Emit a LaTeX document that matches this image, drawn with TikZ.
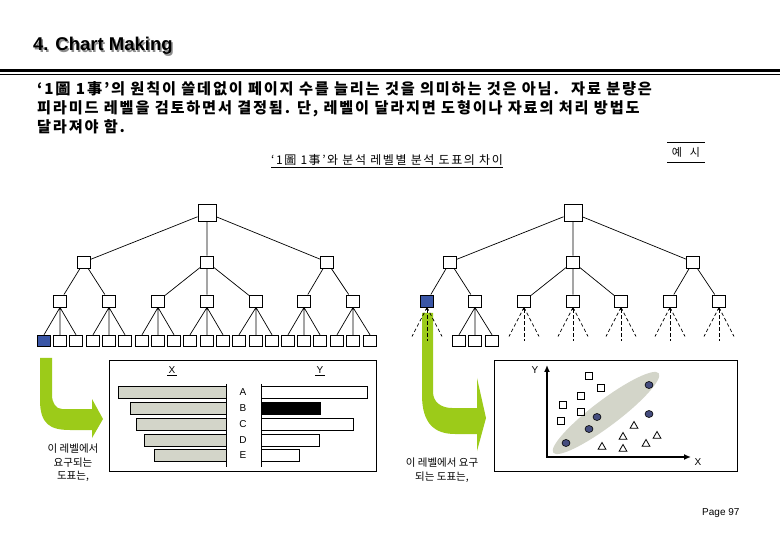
\documentclass[tikz,border=0pt]{standalone}
\usepackage{fontspec}
\setmainfont{Liberation Sans}
\newfontfamily\kr{Noto Sans CJK KR}
\newfontfamily\krbody[LetterSpace=12]{Noto Sans CJK KR}
\newfontfamily\krsub[LetterSpace=13]{Noto Sans CJK KR}
\usetikzlibrary{arrows.meta,shapes.geometric}
\definecolor{nodeblue}{HTML}{3A56A6}
\definecolor{arrowgreen}{HTML}{9CCB19}
\definecolor{bargray}{HTML}{D3D5C9}
\definecolor{dotblue}{HTML}{454D7E}
\begin{document}
\begin{tikzpicture}[x=1pt,y=-1pt,
  tbox/.style={draw,line width=0.9pt,fill=white,inner sep=0pt,minimum width=13pt,minimum height=12pt},
  rootbox/.style={tbox,minimum width=18pt,minimum height=17pt},
  leaf/.style={tbox,minimum width=13pt,minimum height=11.5pt},
  hit/.style={fill=nodeblue},
  link/.style={line width=0.7pt},
  guess/.style={line width=0.7pt,dash pattern=on 3.5pt off 2.5pt},
  psq/.style={draw,line width=0.9pt,inner sep=0pt,minimum width=7pt,minimum height=6.5pt},
  pdot/.style={draw,ellipse,line width=0.6pt,fill=dotblue,inner sep=0pt,minimum width=8pt,minimum height=7pt},
  ptri/.style={draw,regular polygon,regular polygon sides=3,line width=0.8pt,inner sep=0pt,minimum size=9pt},
  axisline/.style={line width=1.6pt,{Latex[length=7pt,width=6pt]}-{Latex[length=7pt,width=6pt]}},
  headline/.style={anchor=base west,inner sep=0pt,font=\bfseries\fontsize{18.5}{22}\selectfont},
  bodyline/.style={anchor=base west,inner sep=0pt,font=\krbody\bfseries\fontsize{15.2}{18}\selectfont},
  note/.style={font=\kr\fontsize{10.5}{13.5}\selectfont,align=center},
  small/.style={font=\fontsize{10}{12}\selectfont}]
\useasboundingbox (0,0) rectangle (780,540);
\fill[white] (0,0) rectangle (780,540);

\node[headline,text=black!45] (titleshade) at (34.5,52.5) {4. Chart Making};
\node[headline] (title) at (33,51) {4. Chart Making};
\draw[line width=2.5pt] (0,70.5) -- (780,70.5);
\draw[line width=0.9pt] (0,74.5) -- (780,74.5);

\node[bodyline] (line1) at (37,95) {‘1圖 1事’의 원칙이 쓸데없이 페이지 수를 늘리는 것을 의미하는 것은 아님.~ 자료 분량은};
\node[bodyline] (line2) at (37,114) {피라미드 레벨을 검토하면서 결정됨. 단, 레벨이 달라지면 도형이나 자료의 처리 방법도};
\node[bodyline] (line3) at (37,133) {달라져야 함.};

\node[font=\krsub\fontsize{11}{13}\selectfont,minimum width=37pt,minimum height=19pt,inner sep=0pt] (ex) at (686,152.5) {예~~시};
\draw[line width=0.7pt] (ex.north west) -- (ex.north east);
\draw[line width=0.7pt] (ex.south west) -- (ex.south east);
\node[font=\krsub\fontsize{12}{14}\selectfont] (sub) at (387,161) {\underline{‘1圖 1事’와 분석 레벨별 분석 도표의 차이}};

\node[rootbox] (lr) at (207,213) {};
\node[tbox] (la1) at (84,262) {};
\node[tbox] (la2) at (207,262) {};
\node[tbox] (la3) at (327,262) {};
\node[tbox] (lb1) at (60,301) {};
\node[tbox] (lb2) at (109,301) {};
\node[tbox] (lb3) at (158,301) {};
\node[tbox] (lb4) at (207,301) {};
\node[tbox] (lb5) at (256,301) {};
\node[tbox] (lb6) at (304,301) {};
\node[tbox] (lb7) at (353,301) {};
\node[leaf,hit] (lc1) at (44,341) {};
\node[leaf] (lc2) at (60,341) {};
\node[leaf] (lc3) at (76,341) {};
\node[leaf] (lc4) at (93,341) {};
\node[leaf] (lc5) at (109,341) {};
\node[leaf] (lc6) at (125,341) {};
\node[leaf] (lc7) at (142,341) {};
\node[leaf] (lc8) at (158,341) {};
\node[leaf] (lc9) at (174,341) {};
\node[leaf] (lc10) at (190,341) {};
\node[leaf] (lc11) at (207,341) {};
\node[leaf] (lc12) at (223,341) {};
\node[leaf] (lc13) at (239,341) {};
\node[leaf] (lc14) at (256,341) {};
\node[leaf] (lc15) at (272,341) {};
\node[leaf] (lc16) at (288,341) {};
\node[leaf] (lc17) at (304,341) {};
\node[leaf] (lc18) at (320,341) {};
\node[leaf] (lc19) at (337,341) {};
\node[leaf] (lc20) at (353,341) {};
\node[leaf] (lc21) at (370,341) {};

\draw[link] (lr) -- (la1) (lr) -- (la2) (lr) -- (la3);
\draw[link] (la1) -- (lb1) (la1) -- (lb2);
\draw[link] (la2) -- (lb3) (la2) -- (lb4) (la2) -- (lb5);
\draw[link] (la3) -- (lb6) (la3) -- (lb7);
\draw[link] (lb1.south) -- (lc1.north) (lb1.south) -- (lc2.north) (lb1.south) -- (lc3.north);
\draw[link] (lb2.south) -- (lc4.north) (lb2.south) -- (lc5.north) (lb2.south) -- (lc6.north);
\draw[link] (lb3.south) -- (lc7.north) (lb3.south) -- (lc8.north) (lb3.south) -- (lc9.north);
\draw[link] (lb4.south) -- (lc10.north) (lb4.south) -- (lc11.north) (lb4.south) -- (lc12.north);
\draw[link] (lb5.south) -- (lc13.north) (lb5.south) -- (lc14.north) (lb5.south) -- (lc15.north);
\draw[link] (lb6.south) -- (lc16.north) (lb6.south) -- (lc17.north) (lb6.south) -- (lc18.north);
\draw[link] (lb7.south) -- (lc19.north) (lb7.south) -- (lc20.north) (lb7.south) -- (lc21.north);

\node[rootbox] (rr) at (573,213) {};
\node[tbox] (ra1) at (450,262) {};
\node[tbox] (ra2) at (573,262) {};
\node[tbox] (ra3) at (693,262) {};
\node[tbox,hit] (rb1) at (427,301) {};
\node[tbox] (rb2) at (475,301) {};
\node[tbox] (rb3) at (524,301) {};
\node[tbox] (rb4) at (573,301) {};
\node[tbox] (rb5) at (621,301) {};
\node[tbox] (rb6) at (670,301) {};
\node[tbox] (rb7) at (719,301) {};
\node[leaf] (rc1) at (459,341) {};
\node[leaf] (rc2) at (475,341) {};
\node[leaf] (rc3) at (492,341) {};

\draw[link] (rr) -- (ra1) (rr) -- (ra2) (rr) -- (ra3);
\draw[link] (ra1) -- (rb1) (ra1) -- (rb2);
\draw[link] (ra2) -- (rb3) (ra2) -- (rb4) (ra2) -- (rb5);
\draw[link] (ra3) -- (rb6) (ra3) -- (rb7);
\draw[link] (rb2.south) -- (rc1.north) (rb2.south) -- (rc2.north) (rb2.south) -- (rc3.north);

\fill[arrowgreen] (40,358) -- (40,400) .. controls (40,424) and (50,430) .. (70,430) -- (92,430) -- (92,438) -- (103,419) -- (92,399) -- (92,409) -- (62,409) .. controls (56,409) and (52,403) .. (52,395) -- (52,358) -- cycle;
\fill[arrowgreen] (422,313) -- (422,395) .. controls (422,424) and (435,434) .. (455,434) -- (477,434) -- (477,451) -- (486,418) -- (477,378) -- (477,408) -- (452,408) .. controls (441,408) and (433,402) .. (433,392) -- (433,313) -- cycle;

\draw[guess] (rb1.south) -- ++(-15,29) (rb1.south) -- ++(15,29);
\draw[guess,{Stealth[length=3pt,width=3.5pt]}-] (rb1.south) -- ++(0,34);
\draw[guess] (rb3.south) -- ++(-15,29) (rb3.south) -- ++(15,29);
\draw[guess,{Stealth[length=3pt,width=3.5pt]}-] (rb3.south) -- ++(0,34);
\draw[guess] (rb4.south) -- ++(-15,29) (rb4.south) -- ++(15,29);
\draw[guess,{Stealth[length=3pt,width=3.5pt]}-] (rb4.south) -- ++(0,34);
\draw[guess] (rb5.south) -- ++(-15,29) (rb5.south) -- ++(15,29);
\draw[guess,{Stealth[length=3pt,width=3.5pt]}-] (rb5.south) -- ++(0,34);
\draw[guess] (rb6.south) -- ++(-15,29) (rb6.south) -- ++(15,29);
\draw[guess,{Stealth[length=3pt,width=3.5pt]}-] (rb6.south) -- ++(0,34);
\draw[guess] (rb7.south) -- ++(-15,29) (rb7.south) -- ++(15,29);
\draw[guess,{Stealth[length=3pt,width=3.5pt]}-] (rb7.south) -- ++(0,34);

\node[note] (lnote) at (73,463) {이 레벨에서\\요구되는\\도표는,};
\node[note] (rnote) at (442,470) {이 레벨에서 요구\\되는 도표는,};

\draw[line width=0.9pt] (109,360) rectangle (376,471);
\node[small] (xhead) at (172,371) {\underline{\,X\,}};
\node[small] (yhead) at (320,371) {\underline{\,Y\,}};
\draw[line width=0.8pt,fill=bargray] (118,386) rectangle (226,398);
\draw[line width=0.8pt,fill=bargray] (130,402) rectangle (226,414);
\draw[line width=0.8pt,fill=bargray] (136,418) rectangle (226,430);
\draw[line width=0.8pt,fill=bargray] (144,434) rectangle (226,446);
\draw[line width=0.8pt,fill=bargray] (154,449) rectangle (226,461);
\draw[line width=0.8pt] (261,386) rectangle (367,398);
\draw[line width=0.8pt,fill=black] (261,402) rectangle (320,414);
\draw[line width=0.8pt] (261,418) rectangle (353,430);
\draw[line width=0.8pt] (261,434) rectangle (319,446);
\draw[line width=0.8pt] (261,449) rectangle (299,461);
\draw[line width=0.9pt] (226,384) -- (226,467);
\draw[line width=0.9pt] (261,384) -- (261,467);
\node[small] (ka) at (243,392) {A};
\node[small] (kb) at (243,408) {B};
\node[small] (kc) at (243,424) {C};
\node[small] (kd) at (243,440) {D};
\node[small] (ke) at (243,455) {E};

\draw[line width=0.9pt] (494,360) rectangle (737,471);
\fill[bargray,rotate around={37:(606,413)}] (606,413) ellipse [x radius=66, y radius=13];
\coordinate (org) at (547,457);
\coordinate (ytop) at (547,365);
\coordinate (xend) at (691,457);
\draw[axisline] (ytop) -- (org) -- (xend);
\node[small] (ylab) at (535,370) {Y};
\node[small] (xlab) at (698,462) {X};
\node[psq] (s1) at (589,376) {};
\node[psq] (s2) at (601,388) {};
\node[psq] (s3) at (581,396) {};
\node[psq] (s4) at (563,405) {};
\node[psq] (s5) at (581,412) {};
\node[psq] (s6) at (561,421) {};
\node[ptri] (t1) at (634,426) {};
\node[ptri] (t2) at (623,437) {};
\node[ptri] (t3) at (657,436) {};
\node[ptri] (t4) at (646,444) {};
\node[ptri] (t5) at (602,447) {};
\node[ptri] (t6) at (623,449) {};
\node[pdot] (d1) at (566,443) {};
\node[pdot] (d2) at (589,429) {};
\node[pdot] (d3) at (597,417) {};
\node[pdot] (d4) at (649,385) {};
\node[pdot] (d5) at (649,414) {};

\node[small,anchor=east] (page) at (743,513) {Page 97};
\end{tikzpicture}
\end{document}
